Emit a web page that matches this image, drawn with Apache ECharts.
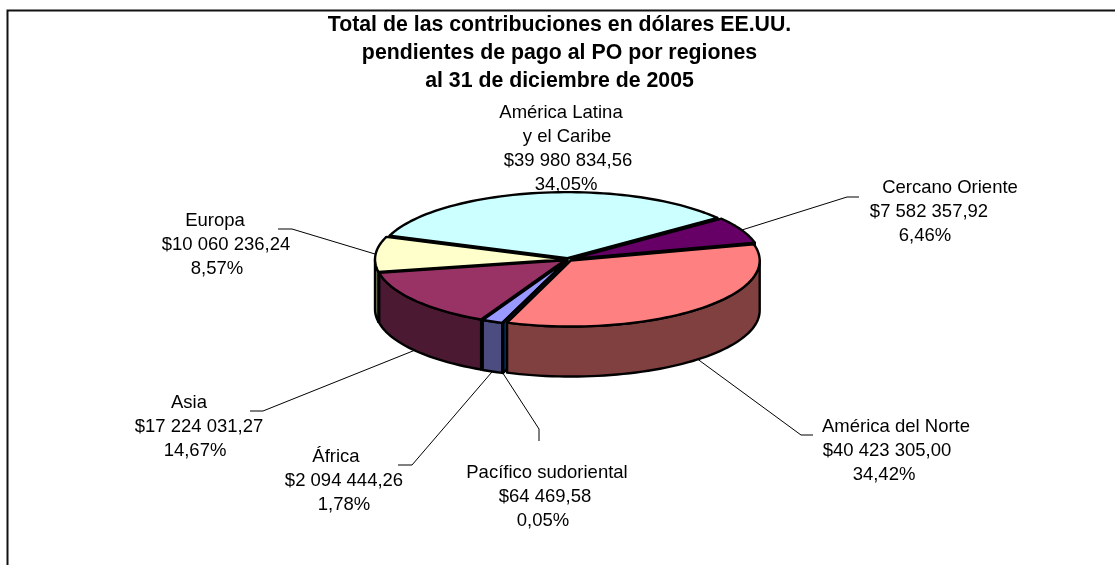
<!DOCTYPE html>
<html>
<head>
<meta charset="utf-8">
<title>Contribuciones pendientes de pago al PO</title>
<style>
    html, body { margin: 0; padding: 0; background: #fff; }
    #chart { width: 1115px; height: 565px; }
</style>
<script src="https://cdn.jsdelivr.net/npm/echarts@6/dist/echarts.min.js"></script>
</head>
<body>
<div id="chart"></div>
<script>
// datos, en el orden de las agujas del reloj
var categories = ['Cercano Oriente', 'América del Norte', 'Pacífico sudoriental', 'África', 'Asia', 'Europa', 'América Latina\ny el Caribe'];
var values = [7582357.92, 40423305.00, 64469.58, 2094444.26, 17224031.27, 10060236.24, 39980834.56];
var colors = ['#660066', '#FF8080', '#0066CC', '#9999FF', '#993366', '#FFFFCC', '#CCFFFF'];
var sideColors = ['#330033', '#804040', '#003366', '#4C4C80', '#4C1933', '#808066', '#668080'];

// sitio de las etiquetas: centro de cada linea y primera linea
var labelXs = [[950, 929, 925], [896, 887, 884], [547, 545, 543], [336, 344, 344], [189, 199, 195], [215, 226, 217], [561, 567, 568, 566]];
var labelYs = [188, 427, 473, 457, 403, 221, 113];
// linea guia: codo y final
var leaders = [[[847, 197], [859, 197]], [[801, 435], [813, 435]], [[539, 429], [539, 441]], [[412, 465], [398, 465]], [[263, 411], [250, 411]], [[292, 229], [278, 229]], null];

var cx = 568, cy = 259.5, rx = 189, ry = 66, depth = 50, explode = 4;
var startAngle = 52.5;
var total = values.reduce(function (a, b) { return a + b; }, 0);

var slices = [];
var acc = startAngle;
values.forEach(function (v, i) {
    var sweep = v / total * 360;
    slices.push({ start: acc, end: acc + sweep, mid: acc + sweep / 2 });
    acc += sweep;
});

function rad(a) { return a * Math.PI / 180; }

function point(s, a, down) {
    var ox = Math.sin(rad(s.mid)) * explode;
    var oy = -Math.cos(rad(s.mid)) * explode * ry / rx;
    return [cx + ox + rx * Math.sin(rad(a)), cy + oy - ry * Math.cos(rad(a)) + (down || 0)];
}

function tip(s, down) {
    var ox = Math.sin(rad(s.mid)) * explode;
    var oy = -Math.cos(rad(s.mid)) * explode * ry / rx;
    return [cx + ox, cy + oy + (down || 0)];
}

function arc(s, from, to, down) {
    var pts = [];
    var n = Math.max(2, Math.ceil((to - from) / 2));
    for (var k = 0; k <= n; k++) pts.push(point(s, from + (to - from) * k / n, down));
    return pts;
}

function poly(points, fill, z2) {
    return {
        type: 'polygon',
        z2: z2,
        shape: { points: points },
        style: { fill: fill, stroke: '#000', lineWidth: 2.4, lineJoin: 'round' }
    };
}

// el trozo de atras se pinta primero
var drawOrder = values.map(function (v, i) { return i; }).sort(function (a, b) {
    return Math.cos(rad(slices[b].mid)) - Math.cos(rad(slices[a].mid));
});

function renderSlice(params, api) {
    var i = api.value(0);
    var s = slices[i];
    var children = [];
    // caras del corte, debajo de todo lo demas
    [[s.start, s.start - 90], [s.end, s.end + 90]].forEach(function (e) {
        if (Math.cos(rad(e[1])) < 0) {
            children.push(poly([tip(s), point(s, e[0]), point(s, e[0], depth), tip(s, depth)], sideColors[i], 1));
        }
    });
    // pared exterior, solo la parte que da al frente
    [[90, 270], [450, 630]].forEach(function (w) {
        var from = Math.max(s.start, w[0]), to = Math.min(s.end, w[1]);
        if (to > from) {
            children.push(poly(arc(s, from, to).concat(arc(s, from, to, depth).reverse()), sideColors[i], 2));
        }
    });
    children.push(poly([tip(s)].concat(arc(s, s.start, s.end)), colors[i], 3));
    return { type: 'group', children: children };
}

function money(v) {
    var p = v.toFixed(2).split('.');
    return '$' + p[0].replace(/\B(?=(\d{3})+$)/g, ' ') + ',' + p[1];
}

function percent(v) {
    return (v / total * 100).toFixed(2).replace('.', ',') + '%';
}

function renderLabel(params, api) {
    var i = api.value(0);
    var s = slices[i];
    var lines = categories[i].split('\n').concat([money(values[i]), percent(values[i])]);
    var children = lines.map(function (t, k) {
        return {
            type: 'text',
            style: {
                text: t, x: labelXs[i][k], y: labelYs[i] + k * 24,
                align: 'center', verticalAlign: 'middle',
                fill: '#000', fontSize: 18.5, fontFamily: 'Liberation Sans, Arial, sans-serif'
            }
        };
    });
    if (leaders[i]) {
        var front = Math.cos(rad(s.mid)) < 0 && Math.abs(Math.sin(rad(s.mid))) < 0.9;
        var from = point(s, s.mid, front ? depth : 0);
        children.push({
            type: 'polyline',
            shape: { points: [from, leaders[i][0], leaders[i][1]] },
            style: { fill: 'none', stroke: '#000', lineWidth: 1 }
        });
    }
    return { type: 'group', children: children };
}

var chart = echarts.init(document.getElementById('chart'));
chart.setOption({
    backgroundColor: '#fff',
    animation: false,
    title: {
        text: 'Total de las contribuciones en dólares EE.UU.\npendientes de pago al PO por regiones\nal 31 de diciembre de 2005',
        left: 554.5,
        top: 6,
        textAlign: 'center',
        textStyle: { fontFamily: 'Liberation Sans, Arial, sans-serif', fontSize: 21.3, fontWeight: 'bold', color: '#000', lineHeight: 28 }
    },
    graphic: [{
        type: 'polyline',
        shape: { points: [[7.5, 565], [7.5, 10.5], [1115, 10.5]] },
        style: { fill: 'none', stroke: '#111', lineWidth: 2 }
    }],
    series: [
        { type: 'custom', coordinateSystem: 'none', silent: true, renderItem: renderSlice, data: drawOrder.map(function (i) { return [i, values[i]]; }) },
        { type: 'custom', coordinateSystem: 'none', silent: true, z: 1, renderItem: renderLabel, data: values.map(function (v, i) { return [i, v]; }) }
    ]
});
</script>
</body>
</html>
